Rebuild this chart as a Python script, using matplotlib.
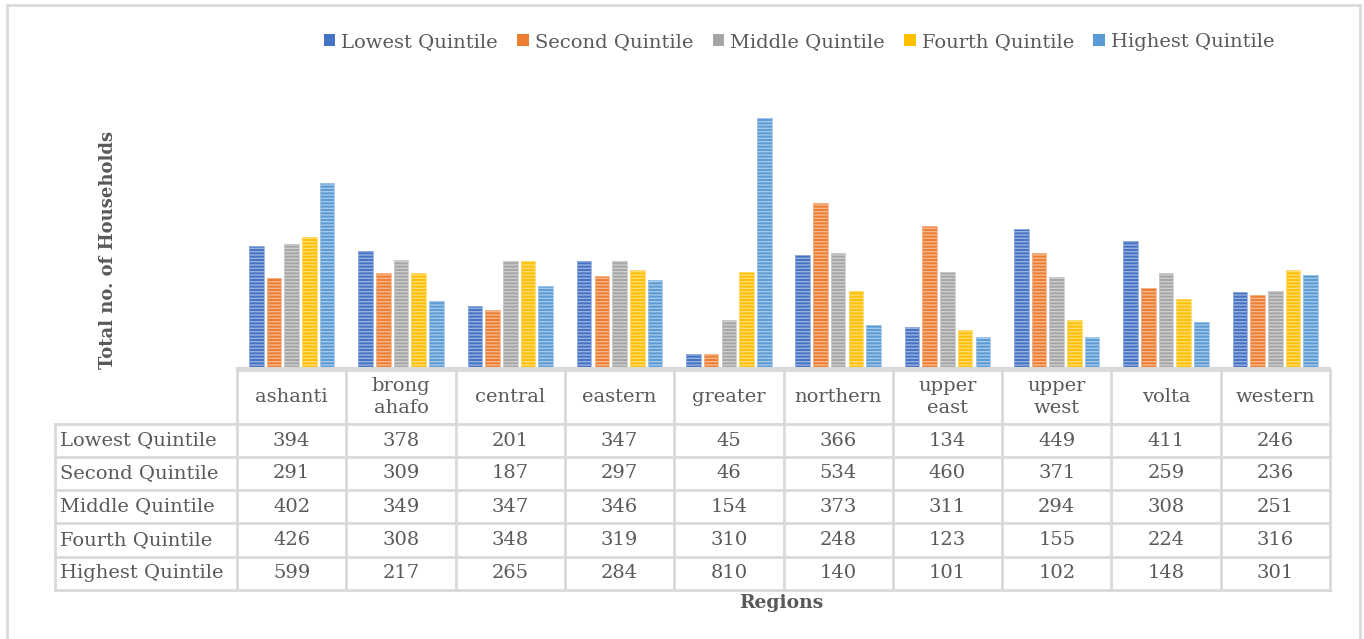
import matplotlib.pyplot as plt
import matplotlib.colors as mcolors
from matplotlib.patches import Rectangle
from matplotlib.transforms import blended_transform_factory
import numpy as np

regions = ["ashanti", "brong\nahafo", "central", "eastern", "greater",
           "northern", "upper\neast", "upper\nwest", "volta", "western"]
series_names = ["Lowest Quintile", "Second Quintile", "Middle Quintile",
                "Fourth Quintile", "Highest Quintile"]
lowest = [394, 378, 201, 347, 45, 366, 134, 449, 411, 246]
second = [291, 309, 187, 297, 46, 534, 460, 371, 259, 236]
middle = [402, 349, 347, 346, 154, 373, 311, 294, 308, 251]
fourth = [426, 308, 348, 319, 310, 248, 123, 155, 224, 316]
highest = [599, 217, 265, 284, 810, 140, 101, 102, 148, 301]
colors = ["#4472C4", "#ED7D31", "#A5A5A5", "#FFC000", "#5B9BD5"]

series = [lowest, second, middle, fourth, highest]

plt.rcParams['font.family'] = ['DejaVu Serif']
plt.rcParams['hatch.linewidth'] = 1.0
text_color = "#595959"
grid_color = "#D9D9D9"
fs = 14

W, H = 1364, 639
fig = plt.figure(figsize=(W / 100, H / 100), dpi=100)


def fy(py):
    # pixel row -> figure fraction
    return 1 - py / H


ax = fig.add_axes([237 / W, fy(368), (1330 - 237) / W, (368 - 100) / H])
x = np.arange(len(regions))
pitch, width = 0.162, 0.134

for i, (vals, c) in enumerate(zip(series, colors)):
    pos = x + (i - 2) * pitch
    light = tuple(0.55 * np.array(mcolors.to_rgb(c)) + 0.45)
    ax.bar(pos, vals, width, color=c, linewidth=0, label=series_names[i])
    ax.bar(pos, vals, width, facecolor="none", edgecolor=light,
           hatch="-----", linewidth=0.6)

ax.set_xlim(-0.5, len(regions) - 0.5)
ax.set_ylim(0, 810 * 268 / 250)
ax.set_xticks([])
ax.set_yticks([])
for s in ["top", "right", "left"]:
    ax.spines[s].set_visible(False)
ax.spines["bottom"].set_color(grid_color)
ax.spines["bottom"].set_linewidth(1.5)

# data table under the bars
tr = blended_transform_factory(ax.transData, fig.transFigure)
row_edges = [370, 424, 457, 490, 523, 557, 590]
label_left = -0.5 - (237 - 55) / 109.3
line_kw = dict(color=grid_color, lw=2, transform=tr, clip_on=False)

for k, py in enumerate(row_edges):
    x0 = -0.5 if k == 0 else label_left
    ax.plot([x0, len(regions) - 0.5], [fy(py), fy(py)], **line_kw)
for j in range(len(regions) + 1):
    ax.plot([j - 0.5, j - 0.5], [fy(370), fy(590)], **line_kw)
ax.plot([label_left, label_left], [fy(424), fy(590)], **line_kw)

for j, name in enumerate(regions):
    ax.text(j, fy(397), name, transform=tr, ha="center", va="center",
            fontsize=fs, color=text_color, linespacing=1.3)
for r, (name, vals) in enumerate(zip(series_names, series)):
    yc = fy((row_edges[r + 1] + row_edges[r + 2]) / 2)
    ax.text(label_left + 0.05, yc, name, transform=tr, ha="left", va="center",
            fontsize=fs, color=text_color)
    for j, v in enumerate(vals):
        ax.text(j, yc, str(v), transform=tr, ha="center", va="center",
                fontsize=fs, color=text_color)

fig.text(108 / W, fy(250), "Total no. of Households", rotation=90,
         ha="center", va="center", fontsize=13, fontweight="bold",
         color=text_color)
fig.text(781 / W, fy(603), "Regions", ha="center", va="center",
         fontsize=13.5, fontweight="bold", color=text_color)

handles = [Rectangle((0, 0), 1, 1, facecolor=c, edgecolor="none") for c in colors]
leg = fig.legend(handles, series_names, loc="center",
                 bbox_to_anchor=(799 / W, fy(42)), ncol=5, frameon=False,
                 fontsize=fs, handlelength=0.6, handleheight=0.6,
                 handletextpad=0.3, columnspacing=1.0)
for t in leg.get_texts():
    t.set_color(text_color)

fig.patches.append(Rectangle((7 / W, -0.01), (1360 - 7) / W, fy(5) + 0.01,
                             transform=fig.transFigure, fill=False,
                             edgecolor=grid_color, lw=2))

fig.savefig("out.png", dpi=100)
